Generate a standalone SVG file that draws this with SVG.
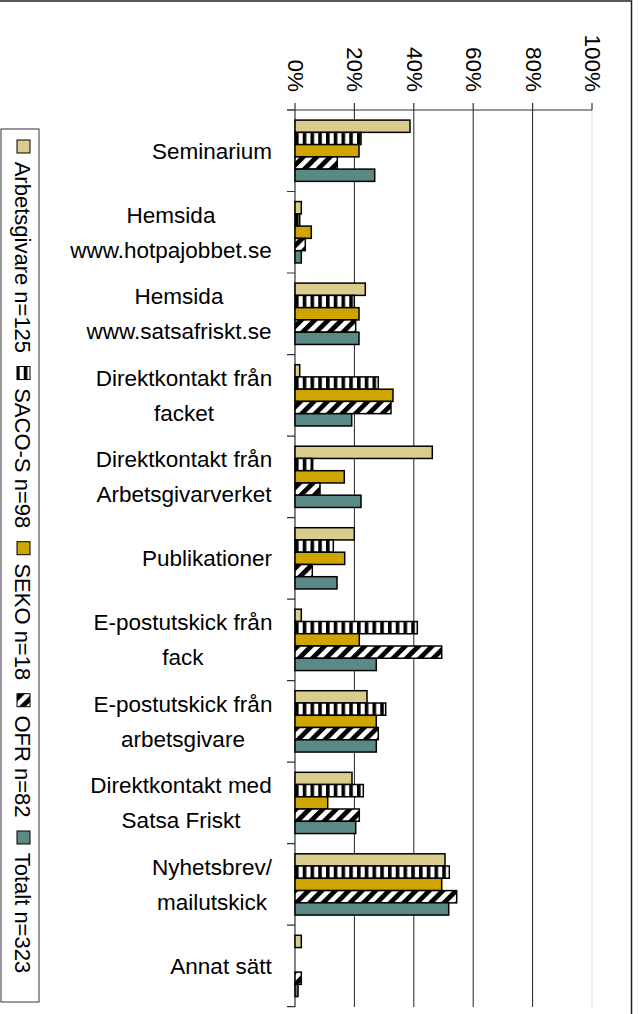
<svg xmlns="http://www.w3.org/2000/svg" width="638" height="1014" viewBox="0 0 638 1014">
<style>
text{font-family:"Liberation Sans",Arial,sans-serif;fill:#000}
.cat{font-size:22.5px;text-anchor:middle}
.tick{font-size:22.5px;text-anchor:end}
.leg{font-size:22px}
.bar{stroke:#000;stroke-width:1.5}
.b1{fill:#D9CC8C}
.b2{fill:url(#stripes)}
.b3{fill:#CFA500}
.b4{fill:url(#hatch)}
.b5{fill:#5B8A86}
.grid{stroke:#222;stroke-width:1}
.axis{stroke:#333;stroke-width:1.2;fill:none}
</style>
<defs>
<pattern id="stripes" patternUnits="userSpaceOnUse" x="295" y="0" width="7.75" height="20">
<rect width="7.75" height="20" fill="#fff"/>
<rect width="3.6" height="20" fill="#000"/>
</pattern>
<pattern id="hatch" patternUnits="userSpaceOnUse" width="9.5" height="9.5" patternTransform="rotate(45)">
<rect width="9.5" height="9.5" fill="#fff"/>
<rect width="4.8" height="9.5" fill="#000"/>
</pattern>
</defs>
<rect width="638" height="1014" fill="#fff"/>
<path d="M0,1 H631.5 V1014" fill="none" stroke="#222" stroke-width="1.5"/>

<g id="grid">
<line class="grid" x1="354.4" y1="110" x2="354.4" y2="1007"/>
<line class="grid" x1="413.8" y1="110" x2="413.8" y2="1007"/>
<line class="grid" x1="473.2" y1="110" x2="473.2" y2="1007"/>
<line class="grid" x1="532.6" y1="110" x2="532.6" y2="1007"/>
<line x1="592" y1="110" x2="592" y2="1007" stroke="#ddd" stroke-width="1"/>
</g>

<g id="value-axis">
<path class="axis" d="M287,110 H592 M295,103 V110 M354.4,103 V110 M413.8,103 V110 M473.2,103 V110 M532.6,103 V110 M592,103 V110"/>
<text class="tick" transform="translate(295,92) rotate(90)" y="7">0%</text>
<text class="tick" transform="translate(354.4,92) rotate(90)" y="7">20%</text>
<text class="tick" transform="translate(413.8,92) rotate(90)" y="7">40%</text>
<text class="tick" transform="translate(473.2,92) rotate(90)" y="7">60%</text>
<text class="tick" transform="translate(532.6,92) rotate(90)" y="7">80%</text>
<text class="tick" transform="translate(592,92) rotate(90)" y="7">100%</text>
</g>

<g id="category-axis">
<path class="axis" d="M295,110 V1007 M287,110 H295 M287,191.5 H295 M287,273 H295 M287,354.6 H295 M287,436.1 H295 M287,517.6 H295 M287,599.1 H295 M287,680.6 H295 M287,762.2 H295 M287,843.7 H295 M287,925.2 H295 M287,1006.7 H295"/>
</g>

<g id="cat-seminarium">
<text class="cat" x="212" y="158.8">Seminarium</text>
<rect class="bar b1" x="295" y="120.1" width="115" height="12.26"/>
<rect class="bar b2" x="295" y="132.4" width="66" height="12.26"/>
<rect class="bar b3" x="295" y="144.6" width="64" height="12.26"/>
<rect class="bar b4" x="295" y="156.9" width="42.3" height="12.26"/>
<rect class="bar b5" x="295" y="169.1" width="79.7" height="12.26"/>
</g>
<g id="cat-hotpajobbet">
<text class="cat" x="171" y="222.8">Hemsida</text>
<text class="cat" x="171" y="257.8">www.hotpajobbet.se</text>
<rect class="bar b1" x="295" y="201.6" width="6.3" height="12.26"/>
<rect class="bar b2" x="295" y="213.9" width="4.7" height="12.26"/>
<rect class="bar b3" x="295" y="226.1" width="16.3" height="12.26"/>
<rect class="bar b4" x="295" y="238.4" width="10.3" height="12.26"/>
<rect class="bar b5" x="295" y="250.7" width="6.3" height="12.26"/>
</g>
<g id="cat-satsafriskt">
<text class="cat" x="179" y="304.3">Hemsida</text>
<text class="cat" x="179" y="339.3">www.satsafriskt.se</text>
<rect class="bar b1" x="295" y="283.1" width="70.3" height="12.26"/>
<rect class="bar b2" x="295" y="295.4" width="59.3" height="12.26"/>
<rect class="bar b3" x="295" y="307.7" width="64" height="12.26"/>
<rect class="bar b4" x="295" y="319.9" width="60.7" height="12.26"/>
<rect class="bar b5" x="295" y="332.2" width="64" height="12.26"/>
</g>
<g id="cat-facket">
<text class="cat" x="184" y="385.8">Direktkontakt från</text>
<text class="cat" x="184" y="420.8">facket</text>
<rect class="bar b1" x="295" y="364.7" width="4.7" height="12.26"/>
<rect class="bar b2" x="295" y="376.9" width="83.3" height="12.26"/>
<rect class="bar b3" x="295" y="389.2" width="98" height="12.26"/>
<rect class="bar b4" x="295" y="401.4" width="96" height="12.26"/>
<rect class="bar b5" x="295" y="413.7" width="56.7" height="12.26"/>
</g>
<g id="cat-arbetsgivarverket">
<text class="cat" x="184" y="467.3">Direktkontakt från</text>
<text class="cat" x="184" y="502.3">Arbetsgivarverket</text>
<rect class="bar b1" x="295" y="446.2" width="137.3" height="12.26"/>
<rect class="bar b2" x="295" y="458.4" width="17.7" height="12.26"/>
<rect class="bar b3" x="295" y="470.7" width="49.3" height="12.26"/>
<rect class="bar b4" x="295" y="483" width="25" height="12.26"/>
<rect class="bar b5" x="295" y="495.2" width="66" height="12.26"/>
</g>
<g id="cat-publikationer">
<text class="cat" x="207" y="566.4">Publikationer</text>
<rect class="bar b1" x="295" y="527.7" width="59.3" height="12.26"/>
<rect class="bar b2" x="295" y="540" width="38.3" height="12.26"/>
<rect class="bar b3" x="295" y="552.2" width="49.7" height="12.26"/>
<rect class="bar b4" x="295" y="564.5" width="17.3" height="12.26"/>
<rect class="bar b5" x="295" y="576.7" width="42" height="12.26"/>
</g>
<g id="cat-epost-fack">
<text class="cat" x="183" y="630.4">E-postutskick från</text>
<text class="cat" x="183" y="665.4">fack</text>
<rect class="bar b1" x="295" y="609.2" width="6.3" height="12.26"/>
<rect class="bar b2" x="295" y="621.5" width="122.3" height="12.26"/>
<rect class="bar b3" x="295" y="633.7" width="64.3" height="12.26"/>
<rect class="bar b4" x="295" y="646" width="146.7" height="12.26"/>
<rect class="bar b5" x="295" y="658.3" width="81.3" height="12.26"/>
</g>
<g id="cat-epost-arbetsgivare">
<text class="cat" x="183" y="711.9">E-postutskick från</text>
<text class="cat" x="183" y="746.9">arbetsgivare</text>
<rect class="bar b1" x="295" y="690.7" width="72" height="12.26"/>
<rect class="bar b2" x="295" y="703" width="90.7" height="12.26"/>
<rect class="bar b3" x="295" y="715.3" width="81.3" height="12.26"/>
<rect class="bar b4" x="295" y="727.5" width="83.3" height="12.26"/>
<rect class="bar b5" x="295" y="739.8" width="81.3" height="12.26"/>
</g>
<g id="cat-satsa-friskt">
<text class="cat" x="181" y="793.4">Direktkontakt med</text>
<text class="cat" x="181" y="828.4">Satsa Friskt</text>
<rect class="bar b1" x="295" y="772.3" width="57" height="12.26"/>
<rect class="bar b2" x="295" y="784.5" width="68.3" height="12.26"/>
<rect class="bar b3" x="295" y="796.8" width="32.7" height="12.26"/>
<rect class="bar b4" x="295" y="809" width="64.3" height="12.26"/>
<rect class="bar b5" x="295" y="821.3" width="60.7" height="12.26"/>
</g>
<g id="cat-nyhetsbrev">
<text class="cat" x="212" y="874.9">Nyhetsbrev/</text>
<text class="cat" x="212" y="909.9">mailutskick</text>
<rect class="bar b1" x="295" y="853.8" width="150" height="12.26"/>
<rect class="bar b2" x="295" y="866" width="154.3" height="12.26"/>
<rect class="bar b3" x="295" y="878.3" width="146.7" height="12.26"/>
<rect class="bar b4" x="295" y="890.6" width="161.7" height="12.26"/>
<rect class="bar b5" x="295" y="902.8" width="153.7" height="12.26"/>
</g>
<g id="cat-annat">
<text class="cat" x="221" y="974">Annat sätt</text>
<rect class="bar b1" x="295" y="935.3" width="6.3" height="12.26"/>
<rect class="bar b4" x="295" y="972.1" width="6.3" height="12.26"/>
<rect class="bar b5" x="295" y="984.3" width="3" height="12.26"/>
</g>

<g id="legend">
<rect x="1" y="129" width="38" height="873" fill="#fff" stroke="#333" stroke-width="1"/>
<rect class="b1" x="17" y="140" width="13" height="13" stroke="#000" stroke-width="1"/>
<text class="leg" transform="rotate(90)" x="161.7" y="-15">Arbetsgivare n=125</text>
<rect class="b2" x="17" y="366.5" width="13" height="13" stroke="#000" stroke-width="1"/>
<text class="leg" transform="rotate(90)" x="388.2" y="-15">SACO-S n=98</text>
<rect class="b3" x="17" y="541.7" width="13" height="13" stroke="#000" stroke-width="1"/>
<text class="leg" transform="rotate(90)" x="563.4" y="-15">SEKO n=18</text>
<rect class="b4" x="17" y="693.7" width="13" height="13" stroke="#000" stroke-width="1"/>
<text class="leg" transform="rotate(90)" x="715.4" y="-15">OFR n=82</text>
<rect class="b5" x="17" y="831" width="13" height="13" stroke="#000" stroke-width="1"/>
<text class="leg" transform="rotate(90)" x="852.7" y="-15">Totalt n=323</text>
</g>
</svg>
